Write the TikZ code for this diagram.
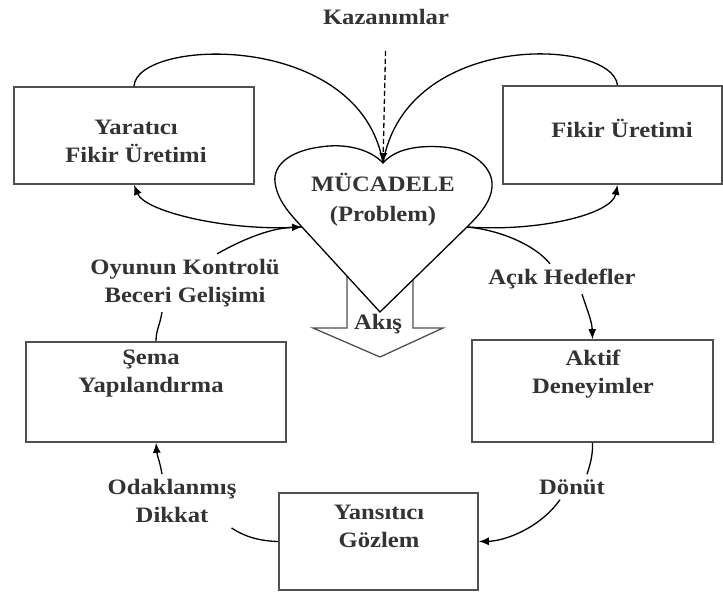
\documentclass[tikz,border=0pt]{standalone}
\usepackage{fontspec}
\setmainfont{Liberation Serif}[FakeStretch=1.12]
\usetikzlibrary{arrows.meta}
\definecolor{boxgray}{HTML}{505050}
\definecolor{inkgray}{HTML}{333333}

\begin{document}
\begin{tikzpicture}[x=1pt,y=-1pt]
\tikzset{
  stagebox/.style={draw=boxgray,line width=1.7pt,inner sep=0pt},
  stagetext/.style={align=center,text=inkgray,font=\bfseries\fontsize{22}{28}\selectfont},
  flowlabel/.style={stagetext,inner sep=5pt},
  link/.style={line width=1.3pt},
  linkarrow/.style={link,-{Latex[length=10pt,width=8pt]}}
}
\useasboundingbox (0,0) rectangle (723,594);
% heart points
\coordinate (hdip) at (383,163);
\coordinate (hl) at (302,227);
\coordinate (hr) at (467,227);
\coordinate (htip) at (380,312);
% flow arrow under the heart
\draw[link,draw=boxgray,fill=white] (347,250) -- (347,328) -- (313,328) -- (380,357)
  -- (443,328) -- (413,328) -- (413,250);
% heart
\draw[link,fill=white] (hdip) .. controls (370,149) and (345,143) .. (320,147)
  .. controls (290,151) and (273,165) .. (275,182)
  .. controls (277,200) and (290,214) .. (hl)
  -- (htip) -- (hr)
  .. controls (480,214) and (493,200) .. (492,183)
  .. controls (491,165) and (470,149) .. (443,147)
  .. controls (418,145) and (395,149) .. (hdip) -- cycle;
% boxes
\node[stagebox,minimum width=240,minimum height=97] (n_yar) at (134,135.5) {};
\node[stagebox,minimum width=219,minimum height=98] (n_fikir) at (612.5,135) {};
\node[stagebox,minimum width=260,minimum height=100] (n_sema) at (156,392) {};
\node[stagebox,minimum width=241,minimum height=102] (n_aktif) at (592.5,391) {};
\node[stagebox,minimum width=199,minimum height=97] (n_gozlem) at (378.5,541.5) {};
% texts
\node[stagetext] (t_yar) at (136,141) {Yaratıcı\\Fikir Üretimi};
\node[stagetext] (t_fikir) at (622,128) {Fikir Üretimi};
\node[stagetext] (t_sema) at (151,374) {Şema\\Yapılandırma};
\node[stagetext] (t_aktif) at (593,374) {Aktif\\Deneyimler};
\node[stagetext] (t_gozlem) at (379,526) {Yansıtıcı\\Gözlem};
\node[stagetext] (t_muc) at (383,200) {MÜCADELE\\[2pt](Problem)};
\node[stagetext] (t_akis) at (378,324) {Akış};
% labels on the links
\node[flowlabel] (l_kaz) at (386,17) {Kazanımlar};
\node[flowlabel] (l_oyun) at (185,283) {Oyunun Kontrolü\\Beceri Gelişimi};
\node[flowlabel] (l_acik) at (562,279) {Açık Hedefler};
\node[flowlabel] (l_donut) at (572,487) {Dönüt};
\node[flowlabel] (l_odak) at (172,501) {Odaklanmış\\Dikkat};
% links
\draw[linkarrow,dash pattern=on 5pt off 3pt,shorten <=21pt] (l_kaz.south) -- (hdip);
\draw[link] (n_yar.north) .. controls (137,38) and (360,30) .. (hdip);
\draw[link] ([xshift=5pt]n_fikir.north) .. controls (612,38) and (406,30) .. (hdip);
\draw[linkarrow] (hl) .. controls (230,232) and (145,212) .. (n_yar.south);
\draw[linkarrow] ([xshift=32pt]l_oyun.north) .. controls (245,238) and (272,228) .. (hl);
\draw[link] (n_sema.north) .. controls (156,330) and (160,325) .. ([xshift=-23pt]l_oyun.south);
\draw[linkarrow] (hr) .. controls (540,232) and (612,214) .. ([xshift=5pt]n_fikir.south);
\draw[link] (hr) .. controls (500,230) and (535,245) .. ([xshift=-12pt]l_acik.north);
\draw[linkarrow] ([xshift=20pt]l_acik.south) .. controls (588,312) and (592,322) .. (n_aktif.north);
\draw[link] (n_aktif.south) .. controls (593,455) and (590,465) .. ([xshift=15pt]l_donut.north);
\draw[linkarrow] ([xshift=-12pt]l_donut.south) .. controls (540,528) and (505,541) .. (n_gozlem.east);
\draw[link] (n_gozlem.west) .. controls (260,541) and (245,537) .. ([xshift=-10pt]l_odak.south east);
\draw[linkarrow] ([xshift=-10pt]l_odak.north) .. controls (160,462) and (157,455) .. (n_sema.south);
\end{tikzpicture}
\end{document}
